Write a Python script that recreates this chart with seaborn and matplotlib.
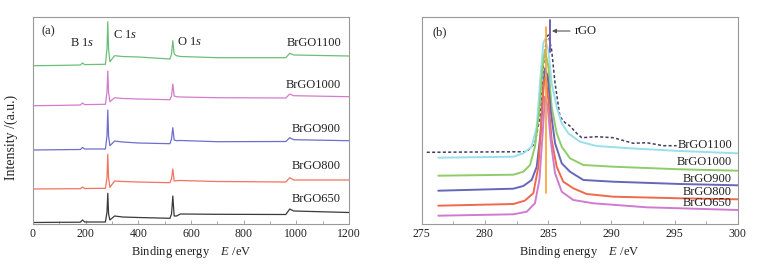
import numpy as np
import pandas as pd
import matplotlib
matplotlib.use("Agg")
import matplotlib.pyplot as plt
from matplotlib.ticker import MultipleLocator
import seaborn as sns

# ---------------- Panel (a): survey spectra ----------------
survey_energy = [0, 100, 180, 188, 196, 275, 281, 284, 287, 292, 310, 340, 400,
                 520, 526, 531, 536, 545, 560, 700, 960, 975, 990, 1200]
survey_650 = [1.5, 1.7, 1.8, 4, 2, 2, 12, 30.7, 10, 4, 8, 7, 6.5,
              5.7, 10, 28, 8, 8, 10, 9.7, 9.5, 15, 13, 11.5]
survey_800 = [35, 35.2, 35.3, 37, 35.5, 35.7, 46, 69.7, 46, 36.7, 43, 42.5, 42,
              41.3, 45, 55, 43, 43.3, 43.5, 42.5, 42, 46.3, 44, 44]
survey_900 = [74, 74.3, 74.5, 76.5, 75, 75, 88, 114, 88, 78.3, 83, 82, 81,
              80.3, 85, 96.3, 84, 83.3, 83.5, 82.3, 82.5, 86.3, 84.3, 83.3]
survey_1000 = [118.3, 118.6, 119, 121, 119.4, 119.7, 132, 153, 132, 122.3, 126.3, 125.5, 125,
               124.3, 128, 140, 128, 127.3, 127, 126.3, 126, 130, 128.3, 127.3]
survey_1100 = [158.3, 158.6, 159, 161, 159.4, 159.7, 175, 202.3, 175, 162.3, 168.3, 167.5, 167,
               165, 170, 183.3, 170, 168.3, 167.5, 166.3, 166.3, 170.7, 169, 168]
survey_names = ["BrGO650", "BrGO800", "BrGO900", "BrGO1000", "BrGO1100"]
survey_colors = ["#3a3a3a", "#f2735e", "#6e6ecc", "#d47ccb", "#6cbf78"]

# ---------------- Panel (b): C 1s spectra ----------------
rgo_e = [275.4, 283.31, 283.96, 284.36, 284.62, 284.89, 285.02, 285.28, 285.55, 285.94,
         286.34, 286.73, 287.26, 287.66, 288.84, 290.16, 291.74, 292.8, 294.11, 295.17]
rgo_i = [71.7, 72.3, 80.7, 107.3, 157.3, 187.3, 189, 174, 140.7, 107.3,
         101.3, 98, 90.7, 86.3, 87.3, 86.3, 80.7, 81.3, 78.3, 78.3]

c1100_e = [276.31, 282.25, 283.04, 283.70, 284.10, 284.36, 284.62, 284.75, 285.02, 285.28,
           285.68, 286.08, 286.60, 287.52, 288.84, 291.48, 295.43, 300.0]
c1100_i = [66.3, 67.3, 70.7, 77.3, 97.3, 140.7, 180.7, 184.7, 174, 140.7,
           117.3, 100.7, 90.7, 82.3, 78, 75.7, 73, 70.7]

c1000_e = [276.31, 282.25, 283.04, 283.57, 283.96, 284.31, 284.57, 284.75, 285.02, 285.28,
           285.68, 286.08, 286.73, 287.79, 290.16, 295.43, 300.0]
c1000_i = [48.3, 49.3, 52.3, 59, 77.3, 114, 157.3, 174, 157.3, 117.3,
           90.7, 77.3, 65.7, 59, 57.3, 54.7, 53.3]

c900_e = [276.31, 282.25, 283.04, 283.70, 284.10, 284.41, 284.62, 284.75, 284.97, 285.2,
          285.55, 286.08, 286.73, 287.79, 290.16, 295.43, 300.0]
c900_i = [33.3, 35.3, 38, 44, 57.3, 90.7, 137.3, 155.7, 147.3, 114,
          80.7, 60.7, 52.3, 44, 42.3, 40, 38.7]

c800_e = [276.31, 282.25, 283.15, 283.83, 284.23, 284.49, 284.68, 284.81, 285.02, 285.28,
          285.68, 286.2, 286.99, 288.05, 290.16, 295.43, 300.0]
c800_i = [18.3, 20, 23.3, 30.7, 57.3, 107.3, 144, 146.7, 124, 84,
          57.3, 42.3, 35.7, 30, 27.3, 25.7, 24.7]

c650_e = [276.31, 282.25, 283.31, 283.96, 284.31, 284.57, 284.75, 284.97, 285.2, 285.55,
          286.08, 286.99, 288.58, 292.8, 300.0]
c650_i = [8.3, 9.7, 12.3, 20.7, 44, 90.7, 127.3, 117.3, 84, 50.7,
          32.3, 24, 20.7, 16.7, 14]

c1s_names = ["BrGO650", "BrGO800", "BrGO900", "BrGO1000", "BrGO1100"]
c1s_colors = ["#cf7ccf", "#ef6a4a", "#6666bb", "#8fcc6a", "#9adfec"]
c1s_label_y = [21.3, 32.3, 45, 62.3, 79]
survey_label_y = [25, 58, 95, 139, 181]

orange_line_e = [284.83, 284.83]
orange_line_i = [31, 197]
purple_line_e = [285.15, 285.15]
purple_line_i = [172, 204]

# ---------------- Styling ----------------
sns.set_style("ticks")
plt.rcParams["font.family"] = ["Liberation Serif", "DejaVu Serif"]
plt.rcParams["mathtext.fontset"] = "custom"
plt.rcParams["mathtext.rm"] = "Liberation Serif"
plt.rcParams["mathtext.it"] = "Liberation Serif:italic"

fig = plt.figure(figsize=(7.67, 2.65), dpi=100)
ax_a = fig.add_axes([33 / 767, 41 / 265, 316 / 767, 207 / 265])
ax_b = fig.add_axes([421.7 / 767, 41 / 265, 316 / 767, 207 / 265])

frame_col = "#999999"
text_col = "#222222"

# Panel a
survey_series = [survey_650, survey_800, survey_900, survey_1000, survey_1100]
rows = []
for name, vals in zip(survey_names, survey_series):
    for e, v in zip(survey_energy, vals):
        rows.append({"E": e, "I": v, "s": name})
df_a = pd.DataFrame(rows)
sns.lineplot(data=df_a, x="E", y="I", hue="s", palette=dict(zip(survey_names, survey_colors)),
             ax=ax_a, lw=0.9, legend=False, sort=False, estimator=None)
for name, y in zip(survey_names, survey_label_y):
    ax_a.text(1170, y, name, ha="right", va="center", fontsize=9, color=text_col)
ax_a.text(57, 193, "(a)", ha="center", va="center", fontsize=9, color=text_col)
ax_a.text(185, 181, "B 1$s$", ha="center", va="center", fontsize=9, color=text_col)
ax_a.text(303, 189, "C 1$s$", ha="left", va="center", fontsize=9, color=text_col)
ax_a.text(548, 181.7, "O 1$s$", ha="left", va="center", fontsize=9, color=text_col)
ax_a.set_xlim(0, 1200)
ax_a.set_ylim(0, 207)
ax_a.xaxis.set_major_locator(MultipleLocator(200))
ax_a.xaxis.set_minor_locator(MultipleLocator(100))
ax_a.set_yticks([])
ax_a.set_xlabel("Binding energy    $E$ /eV", fontsize=9, color=text_col, labelpad=3)
ax_a.set_ylabel("Intensity /(a.u.)", fontsize=10, color=text_col)
ax_a.yaxis.set_label_coords(-0.047, 0.42)

# Panel b
c1s_e = [c650_e, c800_e, c900_e, c1000_e, c1100_e]
c1s_i = [c650_i, c800_i, c900_i, c1000_i, c1100_i]
rows = []
for name, es, vs in zip(c1s_names, c1s_e, c1s_i):
    for e, v in zip(es, vs):
        rows.append({"E": e, "I": v, "s": name})
df_b = pd.DataFrame(rows)
sns.lineplot(data=pd.DataFrame({"E": rgo_e, "I": rgo_i}), x="E", y="I", ax=ax_b,
             color="#3f3f62", lw=1.1, linestyle=(0, (2, 1.5)), sort=False, estimator=None)
sns.lineplot(data=df_b, x="E", y="I", hue="s", palette=dict(zip(c1s_names, c1s_colors)),
             hue_order=c1s_names[::-1], ax=ax_b, lw=1.4, legend=False, sort=False, estimator=None)
sns.lineplot(x=orange_line_e, y=orange_line_i, ax=ax_b, color="#ffa030", lw=1.2, estimator=None)
sns.lineplot(x=purple_line_e, y=purple_line_i, ax=ax_b, color="#7060b8", lw=1.4, estimator=None)
for name, y in zip(c1s_names, c1s_label_y):
    ax_b.text(299.55, y, name, ha="right", va="center", fontsize=9, color=text_col)
ax_b.text(276.4, 192, "(b)", ha="center", va="center", fontsize=9, color=text_col)
ax_b.annotate("rGO", xy=(285.3, 193), xytext=(287.1, 193), ha="left", va="center",
              fontsize=9, color=text_col,
              arrowprops=dict(arrowstyle="-|>", color="#555555", lw=0.8,
                              mutation_scale=6, shrinkA=1, shrinkB=0))
ax_b.set_xlim(275, 300)
ax_b.set_ylim(0, 207)
ax_b.xaxis.set_major_locator(MultipleLocator(5))
ax_b.xaxis.set_minor_locator(MultipleLocator(2.5))
ax_b.set_yticks([])
ax_b.set_xlabel("Binding energy    $E$ /eV", fontsize=9, color=text_col, labelpad=3)
ax_b.set_ylabel("")

for ax in (ax_a, ax_b):
    for sp in ax.spines.values():
        sp.set_visible(True)
        sp.set_color(frame_col)
        sp.set_linewidth(0.8)
    ax.tick_params(axis="x", which="major", direction="in", length=3, width=0.6,
                   color=frame_col, labelsize=8.5, labelcolor=text_col, pad=3)
    ax.tick_params(axis="x", which="minor", direction="in", length=2, width=0.6,
                   color=frame_col)

fig.savefig("out.png", dpi=100)
